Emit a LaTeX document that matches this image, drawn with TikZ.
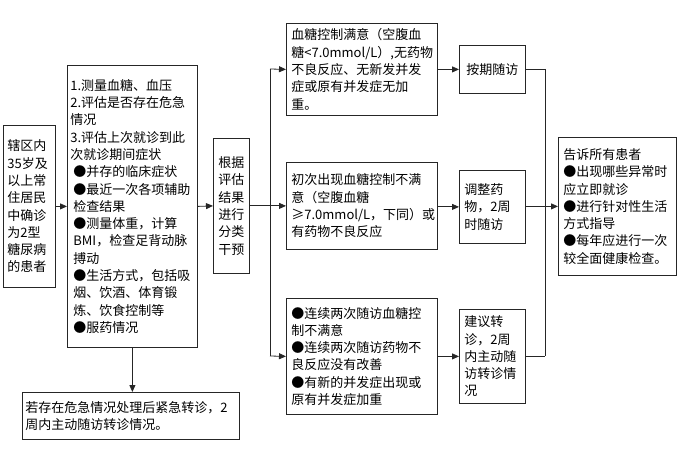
\documentclass[tikz,border=0pt]{standalone}
\usepackage{fontspec}
\setmainfont{Noto Sans CJK SC}
\usetikzlibrary{arrows.meta,calc}
\begin{document}
\begin{tikzpicture}[x=1pt,y=-1pt,
  box/.style={draw=black!85,line width=0.8pt,anchor=north west,inner ysep=0pt,inner xsep=4pt,
    align=left,font=\fontsize{13}{17.3}\selectfont,text=black},
  arr/.style={-{Triangle[length=7pt,width=6pt]},line width=0.8pt,draw=black!85},
  ln/.style={line width=0.8pt,draw=black!85}]
\useasboundingbox (0,0) rectangle (693,465);
% boxes
\node[box,text width=44pt,minimum height=162pt] (A) at (3,125)
  {辖区内\\35岁及\\以上常\\住居民\\中确诊\\为2型\\糖尿病\\的患者};
\node[box,inner xsep=3pt,text width=124pt,minimum height=282pt] (B) at (67,65)
  {1.测量血糖、血压\\2.评估是否存在危急\\情况\\3.评估上次就诊到此\\次就诊期间症状\\
   \hspace*{3pt}●并存的临床症状\\\hspace*{3pt}●最近一次各项辅助\\\hspace*{3pt}检查结果\\
   \hspace*{3pt}●测量体重，计算\\\hspace*{3pt}BMI，检查足背动脉\\\hspace*{3pt}搏动\\
   \hspace*{3pt}●生活方式，包括吸\\\hspace*{3pt}烟、饮酒、体育锻\\\hspace*{3pt}炼、饮食控制等\\
   \hspace*{3pt}●服药情况};
\node[box,align=center,inner xsep=2pt,text width=32pt,minimum height=135pt] (C) at (213,138)
  {根据\\评估\\结果\\进行\\分类\\干预};
\node[box,inner xsep=5pt,text width=141pt,minimum height=92pt] (D) at (286,23)
  {血糖控制满意（空腹血\\糖<7.0mmol/L）,无药物\\不良反应、无新发并发\\症或原有并发症无加\\重。};
\node[box,inner xsep=5pt,text width=141pt,minimum height=87pt] (F) at (286,162)
  {初次出现血糖控制不满\\意（空腹血糖\\≥7.0mmol/L，下同）或\\有药物不良反应};
\node[box,inner xsep=5pt,text width=141pt,minimum height=116pt] (I) at (286,298)
  {●连续两次随访血糖控\\制不满意\\●连续两次随访药物不\\良反应没有改善\\●有新的并发症出现或\\原有并发症加重};
\node[box,align=center,inner xsep=3pt,text width=60pt,minimum height=48pt] (E) at (459,45)
  {按期随访};
\node[box,inner xsep=5pt,text width=56pt,minimum height=73pt] (G) at (459,170)
  {调整药\\物，2周\\时随访};
\node[box,inner xsep=5pt,text width=56pt,minimum height=94pt] (J) at (459,309)
  {建议转\\诊，2周\\内主动随\\访转诊情\\况};
\node[box,inner xsep=5pt,text width=108pt,minimum height=138pt] (H) at (558,137)
  {告诉所有患者\\●出现哪些异常时\\应立即就诊\\●进行针对性生活\\方式指导\\●每年应进行一次\\较全面健康检查。};
\node[box,inner xsep=3pt,text width=211pt,minimum height=47pt] (K) at (22,392)
  {若存在危急情况处理后紧急转诊，2\\周内主动随访转诊情况。};
% junctions
\coordinate (Lt) at (270,69);
\coordinate (Lb) at (270,356);
\coordinate (Rt) at (545,69);
\coordinate (Rb) at (545,356);
% connectors
\draw[arr] (A.east) -- (B.west);
\draw[arr] (B.east) -- (C.west);
\draw[arr] (B.south) -- (B.south |- K.north);
\draw[ln] (C.east) -- (C.east -| Lt);
\draw[ln] (Lt) -- (Lb);
\draw[arr] (Lt) -- (D.west);
\draw[arr] (Lt |- F.west) -- (F.west);
\draw[arr] (Lb) -- (I.west);
\draw[arr] (D.east |- E.west) -- (E.west);
\draw[arr] (F.east |- G.west) -- (G.west);
\draw[arr] (I.east |- J.west) -- (J.west);
\draw[ln] (E.east) -- (E.east -| Rt);
\draw[ln] (J.east) -- (J.east -| Rb);
\draw[ln] (Rt) -- (Rb);
\draw[ln] (G.east) -- (G.east -| Rt);
\draw[arr] (Rt |- H.west) -- (H.west);
\end{tikzpicture}
\end{document}
